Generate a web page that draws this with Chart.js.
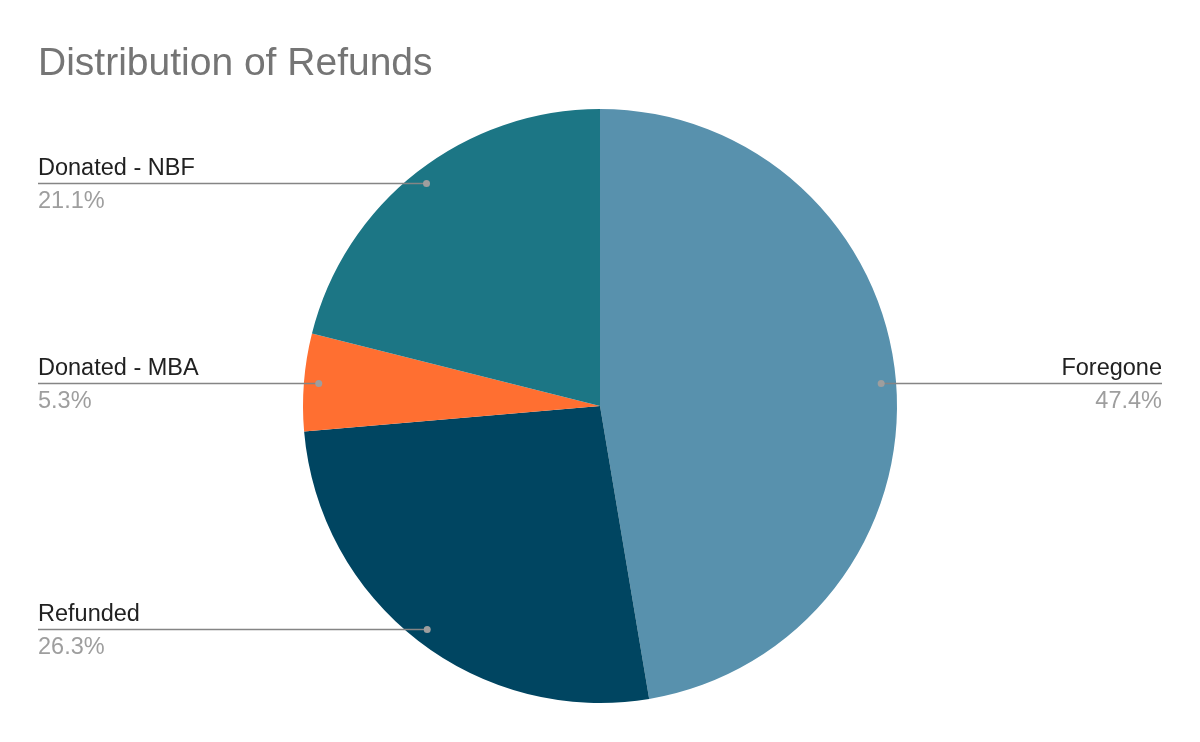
<!DOCTYPE html>
<html>
<head>
<meta charset="utf-8">
<script src="https://cdn.jsdelivr.net/npm/chart.js@4"></script>
<style>
  html, body { margin: 0; padding: 0; background: #fff; }
  canvas { display: block; }
</style>
</head>
<body>
<canvas id="pieChart" width="1200" height="742"></canvas>
<script>
const chartTitle = "Distribution of Refunds";
const categories = ["Foregone", "Refunded", "Donated - MBA", "Donated - NBF"];
const shares = [47.4, 26.3, 5.3, 21.1]; // percent, as labelled
const sliceColors = ["#5891AD", "#004561", "#FF6F31", "#1C7685"];

const FONT = "Arial, 'Liberation Sans', sans-serif";

// title + leader-line labels, drawn after the pie
const calloutPlugin = {
  id: "callouts",
  afterDraw(chart) {
    const ctx = chart.ctx;
    ctx.save();
    ctx.fillStyle = "#757575";
    ctx.font = `39px ${FONT}`;
    ctx.textAlign = "left";
    ctx.textBaseline = "alphabetic";
    ctx.fillText(chartTitle, 38, 75);

    const arcs = chart.getDatasetMeta(0).data;
    arcs.forEach((arc, i) => {
      const mid = (arc.startAngle + arc.endAngle) / 2;
      const r = arc.outerRadius * 0.95;
      const px = arc.x + Math.cos(mid) * r;
      const py = Math.round(arc.y + Math.sin(mid) * r);
      const left = px < arc.x;
      const x0 = left ? 38 : 1162;

      ctx.strokeStyle = "#858585";
      ctx.lineWidth = 1.7;
      ctx.beginPath();
      ctx.moveTo(x0, py + 0.5);
      ctx.lineTo(px, py + 0.5);
      ctx.stroke();

      ctx.fillStyle = "#9e9e9e";
      ctx.beginPath();
      ctx.arc(px, py + 0.5, 3.5, 0, Math.PI * 2);
      ctx.fill();

      ctx.textAlign = left ? "left" : "right";
      ctx.font = `23.5px ${FONT}`;
      ctx.fillStyle = "#212121";
      ctx.fillText(categories[i], x0, py - 8);
      ctx.fillStyle = "#9e9e9e";
      ctx.fillText(shares[i].toFixed(1) + "%", x0, py + 25);
    });
    ctx.restore();
  }
};

new Chart(document.getElementById("pieChart"), {
  type: "pie",
  data: {
    labels: categories,
    datasets: [{
      data: shares,
      backgroundColor: sliceColors,
      borderWidth: 0,
      hoverOffset: 0
    }]
  },
  options: {
    responsive: false,
    animation: false,
    layout: { padding: { top: 109, bottom: 39, left: 303, right: 303 } },
    plugins: {
      legend: { display: false },
      title: { display: false },
      tooltip: { enabled: false }
    }
  },
  plugins: [calloutPlugin]
});
</script>
</body>
</html>
